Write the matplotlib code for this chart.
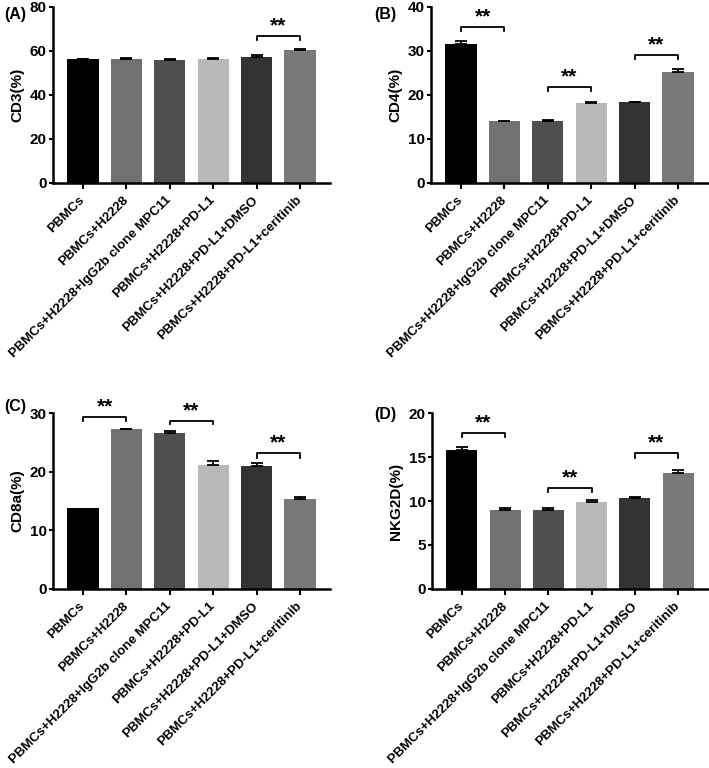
import numpy as np
import matplotlib
matplotlib.use("Agg")
import matplotlib.pyplot as plt

plt.rcParams['font.family'] = ['Liberation Sans', 'DejaVu Sans']
plt.rcParams['font.weight'] = 'bold'

# Datos
groups = ["PBMCs", "PBMCs+H2228", "PBMCs+H2228+IgG2b clone MPC11",
          "PBMCs+H2228+PD-L1", "PBMCs+H2228+PD-L1+DMSO",
          "PBMCs+H2228+PD-L1+ceritinib"]

cd3 = [56.2, 56.4, 56.1, 56.5, 57.2, 60.6]
cd3_err = [0.3, 0.4, 0.3, 0.3, 0.8, 0.3]

cd4 = [31.7, 14.0, 14.2, 18.1, 18.3, 25.3]
cd4_err = [0.5, 0.2, 0.2, 0.4, 0.2, 0.5]

cd8a = [13.8, 27.2, 26.6, 21.2, 21.0, 15.4]
cd8a_err = [0.0, 0.15, 0.4, 0.7, 0.5, 0.2]

nkg2d = [15.8, 9.0, 8.95, 9.85, 10.3, 13.2]
nkg2d_err = [0.3, 0.15, 0.25, 0.25, 0.1, 0.3]

colors = ["#000000", "#717171", "#4f4f4f", "#b8b8b8", "#333333", "#797979"]

# brackets: (i, j, altura, bajada)
brk_a = [(4, 5, 66.9, 2.0)]
brk_b = [(0, 1, 35.5, 1.0), (2, 3, 21.9, 0.9), (4, 5, 29.1, 1.0)]
brk_c = [(0, 1, 29.3, 0.7), (2, 3, 28.7, 0.6), (4, 5, 23.2, 0.9)]
brk_d = [(0, 1, 17.7, 0.45), (2, 3, 11.5, 0.5), (4, 5, 15.4, 0.5)]

W, H = 709, 768
fig = plt.figure(figsize=(W / 100, H / 100), dpi=100)


def panel(box, vals, errs, ymax, ystep, ylabel, tag, brks, tag_xy):
    l, t, r, b = box
    ax = fig.add_axes([l / W, 1 - b / H, (r - l) / W, (b - t) / H])
    x = np.arange(len(vals))
    ax.bar(x, vals, width=0.72, color=colors, zorder=2)
    m = np.array(errs) > 0
    ax.errorbar(x[m], np.array(vals)[m],
                yerr=[np.zeros(m.sum()), np.array(errs)[m]],
                fmt="none", ecolor="black", elinewidth=1.3, capsize=4.5,
                capthick=1.3, zorder=3)
    for i, j, h, d in brks:
        ax.plot([i, i, j, j], [h - d, h, h, h - d], color="black", lw=1.3,
                clip_on=False)
        ax.text((i + j) / 2, h + ymax * 0.004, "**", ha="center", va="bottom",
                fontsize=15, fontweight="bold")
    ax.set_xlim(-0.69, len(vals) - 1 + 0.69)
    ax.set_ylim(0, ymax)
    ax.set_yticks(np.arange(0, ymax + 0.1, ystep))
    ax.set_xticks(x)
    ax.set_xticklabels(groups, rotation=45, ha="right", va="center",
                       rotation_mode="anchor", fontsize=9.5,
                       fontweight="bold")
    ax.tick_params(axis="x", pad=7, length=4, width=1.5)
    ax.tick_params(axis="y", labelsize=11, length=3, width=1.5, pad=1.5)
    for s in ["top", "right"]:
        ax.spines[s].set_visible(False)
    for s in ["left", "bottom"]:
        ax.spines[s].set_linewidth(1.8)
    ax.set_ylabel(ylabel, fontsize=11, fontweight="bold", labelpad=4)
    fig.text(tag_xy[0] / W, 1 - tag_xy[1] / H, tag, fontsize=11.5,
             fontweight="bold", ha="left", va="center")
    return ax


panel((53, 7, 330, 183), cd3, cd3_err, 80, 20, "CD3(%)", "(A)", brk_a, (4, 14))
panel((431, 7, 708, 183), cd4, cd4_err, 40, 10, "CD4(%)", "(B)", brk_b, (374, 14))
panel((53, 413, 330, 589), cd8a, cd8a_err, 30, 10, "CD8a(%)", "(C)", brk_c, (4, 407))
panel((432, 413, 708, 589), nkg2d, nkg2d_err, 20, 5, "NKG2D(%)", "(D)", brk_d, (374, 415))

fig.savefig("out.png", dpi=100)
